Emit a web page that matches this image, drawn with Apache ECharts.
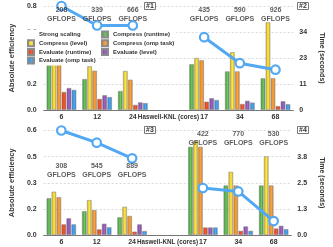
<!DOCTYPE html>
<html><head><meta charset="utf-8">
<script src="https://cdn.jsdelivr.net/npm/echarts@6/dist/echarts.min.js"></script>
<style>html,body{margin:0;padding:0;background:#fff}#c{width:333px;height:247px}</style>
</head><body><div id="c"></div>
<script>
// ---- data ----
const categories = ['6', '12', '24', 'Haswell-KNL (cores)', '17', '34', '68'];
const seriesNames = ['Compress (runtime)', 'Compress (level)', 'Compress (omp task)', 'Evaluate (runtime)', 'Evaluate (level)', 'Evaluate (omp task)'];
const lineName = 'Strong scaling';

// Panel #1/#2 (top): time in seconds (bars), absolute efficiency (line)
const p1CompressRuntime = [19.5, 13.4, 8.2, null, 19.8, 16.7, 13.7];
const p1CompressLevel   = [21.6, 18.9, 16.9, null, 22.5, 25.0, 37.9];
const p1CompressOmp     = [21.1, 17.0, 13.1, null, 21.5, 16.7, 13.8];
const p1EvalRuntime     = [7.8, 4.8, 2.2, null, 3.6, 2.6, 1.7];
const p1EvalLevel       = [9.5, 6.4, 3.3, null, 5.1, 4.0, 3.8];
const p1EvalOmp         = [8.7, 5.6, 3.0, null, 4.3, 3.2, 2.5];
const p1Efficiency      = [0.80, 0.65, 0.65, null, 0.56, 0.36, 0.31];
const p1Gflops          = ['208', '339', '666', '', '435', '590', '926'];

// Panel #3/#4 (bottom)
const p2CompressRuntime = [1.76, 1.14, 0.85, null, 4.22, 2.37, 2.37];
const p2CompressLevel   = [2.07, 1.67, 1.35, null, 4.50, 3.02, 3.76];
const p2CompressOmp     = [1.81, 1.19, 0.91, null, 4.22, 2.37, 2.37];
const p2EvalRuntime     = [0.51, 0.27, 0.16, null, 0.36, 0.20, 0.31];
const p2EvalLevel       = [0.80, 0.54, 0.51, null, 0.36, 0.41, 0.44];
const p2EvalOmp         = [0.51, 0.37, 0.19, null, 0.36, 0.20, 0.28];
const p2Efficiency      = [0.60, 0.53, 0.44, null, 0.27, 0.25, 0.08];
const p2Gflops          = ['308', '545', '889', '', '422', '770', '530'];

// tick labels
const p1LeftTicks  = ['0.0', '0.2', '0.4', '0.6', '0.8'];
const p1RightTicks = ['0', '11', '23', '34', '45'];
const p2LeftTicks  = ['0.0', '0.2', '0.3', '0.5', '0.6'];
const p2RightTicks = ['0.0', '1.3', '2.5', '3.8', '5.0'];
const panelTags = ['#1', '#2', '#3', '#4'];

// ---- styling ----
const FONT = 'Liberation Sans';
const TXT = '#333';
const palette = [
  ['#2f8f2f', '#72c85e'],
  ['#d8b600', '#fbe650'],
  ['#de7810', '#f6a442'],
  ['#d6300f', '#f45c32'],
  ['#773a9e', '#a066c6'],
  ['#1f7fd6', '#4ea8ef']
];
const lineColor = '#52a8f2';
function grad(c) {
  return new echarts.graphic.LinearGradient(0, 0, 1, 0, [
    {offset: 0, color: c[0]}, {offset: 0.55, color: c[1]}, {offset: 1, color: c[0]}
  ]);
}

const p1Bars = [p1CompressRuntime, p1CompressLevel, p1CompressOmp, p1EvalRuntime, p1EvalLevel, p1EvalOmp];
const p2Bars = [p2CompressRuntime, p2CompressLevel, p2CompressOmp, p2EvalRuntime, p2EvalLevel, p2EvalOmp];

const grids = [
  {left: 26, right: 26, top: 6, height: 104},
  {left: 26, right: 26, top: 130.5, height: 104.5}
];

function xAxis(gi) {
  return {
    type: 'category', gridIndex: gi, data: categories,
    axisTick: {show: false},
    axisLine: {lineStyle: {color: '#777', width: 1}},
    axisLabel: {interval: 0, fontSize: 7, fontWeight: 'bold', color: TXT, fontFamily: FONT, margin: 4,
      formatter: (v, i) => i === 3 ? '{s|' + v + '}' : v,
      rich: {s: {fontSize: 6.3, fontWeight: 'bold', color: TXT, fontFamily: FONT}}}
  };
}
function yLeft(gi, max, interval, ticks) {
  return {
    type: 'value', gridIndex: gi, min: 0, max: max, interval: interval, position: 'left',
    name: 'Absolute efficiency', nameLocation: 'middle', nameGap: 16,
    nameTextStyle: {fontSize: 7.5, fontWeight: 'bold', color: TXT, fontFamily: FONT},
    axisLine: {show: false}, axisTick: {show: false},
    splitLine: {show: true, lineStyle: {color: '#cfcfcf', type: [2, 2], width: 0.8}},
    axisLabel: {fontSize: 7, fontWeight: 'bold', color: TXT, fontFamily: FONT, margin: 7,
      formatter: v => ticks[Math.round(v / interval)]}
  };
}
function yRight(gi, max, interval, ticks) {
  return {
    type: 'value', gridIndex: gi, min: 0, max: max, interval: interval, position: 'right',
    name: 'Time (seconds)', nameLocation: 'middle', nameGap: 19, nameRotate: -90,
    nameTextStyle: {fontSize: 7, fontWeight: 'bold', color: TXT, fontFamily: FONT},
    axisLine: {show: false}, axisTick: {show: false}, splitLine: {show: false},
    axisLabel: {fontSize: 7, fontWeight: 'bold', color: TXT, fontFamily: FONT, margin: 6,
      formatter: v => ticks[Math.round(v / interval)]}
  };
}

const series = [];
function addPanel(gi, bars, eff, gflops, labelPos) {
  bars.forEach((d, i) => {
    series.push({
      type: 'bar', name: seriesNames[i], xAxisIndex: gi, yAxisIndex: gi * 2 + 1,
      data: d, barGap: '10%', barCategoryGap: '17%',
      itemStyle: {color: grad(palette[i]), borderColor: '#8c8c8c', borderWidth: 0.6},
      emphasis: {disabled: true}, z: 2
    });
  });
  series.push({
    type: 'line', name: lineName, xAxisIndex: gi, yAxisIndex: gi * 2,
    data: eff, clip: false, symbol: 'circle', symbolSize: 8.5,
    lineStyle: {color: lineColor, width: 3},
    itemStyle: {color: '#fff', borderColor: lineColor, borderWidth: 2.2},
    z: 5
  });
  series.push({
    type: 'scatter', name: 'gflops' + gi, xAxisIndex: gi, yAxisIndex: gi * 2,
    symbolSize: 0, silent: true, z: 6,
    data: gflops.map((g, i) => g ? [i, labelPos[i]] : null).filter(x => x),
    label: {show: true, position: 'inside', fontSize: 7, fontWeight: 'bold', color: TXT, fontFamily: FONT,
      lineHeight: 8.5,
      formatter: p => gflops[p.data[0]] + '\nGFLOPS'}
  });
}
addPanel(0, p1Bars, p1Efficiency, p1Gflops, [0.735, 0.735, 0.735, 0, 0.735, 0.735, 0.735]);
addPanel(1, p2Bars, p2Efficiency, p2Gflops, [0.371, 0.371, 0.371, 0, 0.554, 0.554, 0.554]);

function tag(text, left, top) {
  return {text: text, left: left, top: top, padding: [1, 2, 0, 2], borderColor: '#777', borderWidth: 1,
    backgroundColor: '#fff',
    textStyle: {fontSize: 7, fontWeight: 'bold', color: TXT, fontFamily: FONT}};
}

const legendText = {fontSize: 6, fontWeight: 'bold', color: TXT, fontFamily: FONT, lineHeight: 7, padding: [0, 0, 0, 0]};
const option = {
  animation: false,
  grid: grids,
  xAxis: [xAxis(0), xAxis(1)],
  yAxis: [yLeft(0, 0.8, 0.2, p1LeftTicks), yRight(0, 45, 11.25, p1RightTicks),
          yLeft(1, 0.6, 0.15, p2LeftTicks), yRight(1, 5, 1.25, p2RightTicks)],
  title: [tag(panelTags[0], 144, 2), tag(panelTags[1], 297, 2), tag(panelTags[2], 144, 126), tag(panelTags[3], 297, 126)],
  legend: [
    {orient: 'vertical', left: 25, top: 29.5, itemWidth: 6, itemHeight: 6, itemGap: 0.7,
     backgroundColor: '#fff', padding: [1, 2, 1, 2], textStyle: legendText, selectedMode: false,
     data: [{name: lineName, icon: 'emptyCircle', itemStyle: {color: '#fff', borderColor: lineColor, borderWidth: 1.5}},
            {name: seriesNames[1], icon: 'rect'}, {name: seriesNames[3], icon: 'rect'}, {name: seriesNames[5], icon: 'rect'}]},
    {orient: 'vertical', left: 99, top: 29.5, itemWidth: 6, itemHeight: 6, itemGap: 0.7,
     backgroundColor: '#fff', padding: [1, 2, 1, 2], textStyle: legendText, selectedMode: false,
     data: [{name: seriesNames[0], icon: 'rect'}, {name: seriesNames[2], icon: 'rect'}, {name: seriesNames[4], icon: 'rect'}]}
  ],
  series: series
};
const chart = echarts.init(document.getElementById('c'), null, {renderer: 'canvas'});
chart.setOption(option);
</script></body></html>
